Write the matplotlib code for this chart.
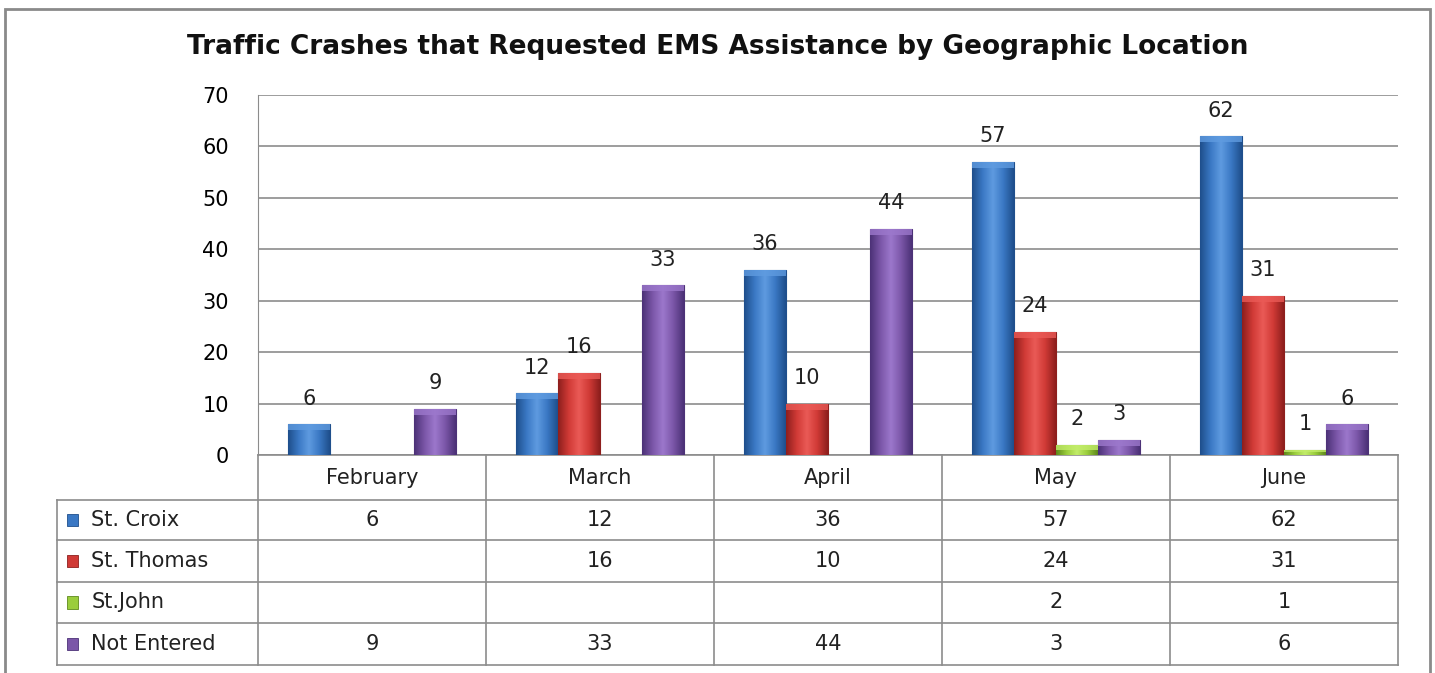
import numpy as np
import matplotlib.pyplot as plt
from matplotlib.patches import Rectangle
from matplotlib.colors import LinearSegmentedColormap
import matplotlib.transforms as mtransforms

plt.rcParams['font.family'] = ['DejaVu Sans']

# data
months = ["February", "March", "April", "May", "June"]
series = ["St. Croix", "St. Thomas", "St.John", "Not Entered"]
st_croix = [6, 12, 36, 57, 62]
st_thomas = [np.nan, 16, 10, 24, 31]
st_john = [np.nan, np.nan, np.nan, 2, 1]
not_entered = [9, 33, 44, 3, 6]
values = [st_croix, st_thomas, st_john, not_entered]

colors = ["#3a78c4", "#d03a36", "#9acd3c", "#7b56a8"]
light = ["#5f9be0", "#ea5a56", "#c2ec6a", "#9c78cc"]
dark = ["#1f4f8c", "#8e1f1d", "#5f8a1c", "#4c3277"]

fig = plt.figure(figsize=(14.35, 6.73), dpi=100)
W, H = 1435, 673
ax = fig.add_axes([258 / W, 1 - 455 / H, (1398 - 258) / W, (455 - 95) / H])

# outer frame
fig.patches.append(Rectangle((5 / W, -0.05), 1425 / W, 1.05 - 9 / H, transform=fig.transFigure,
                             fill=False, edgecolor="#8a8a8a", linewidth=2))

fs = 15
x = np.arange(len(months))
bw = 42 / 228
for i, vals in enumerate(values):
    cmap = LinearSegmentedColormap.from_list("g", [dark[i], colors[i], light[i], colors[i], dark[i]])
    grad = np.linspace(0, 1, 64).reshape(1, -1)
    for j, v in enumerate(vals):
        if np.isnan(v):
            continue
        left = x[j] + (i - 1.5) * bw - bw / 2
        bar = ax.bar(left, v, width=bw, align="edge", color=colors[i],
                     edgecolor=dark[i], linewidth=0.8, zorder=3)[0]
        im = ax.imshow(grad, extent=(left, left + bw, 0, v), cmap=cmap, aspect="auto", zorder=3.5)
        im.set_clip_path(bar)
        # top bevel
        ax.add_patch(Rectangle((left, v - min(1.2, v * 0.5)), bw, min(1.2, v * 0.5),
                               facecolor=light[i], edgecolor="none", alpha=0.8, zorder=4))
        ax.text(left + bw / 2, v + 3.0, f"{int(v)}", ha="center", va="bottom",
                fontsize=fs, color="#222222", zorder=5)

ax.set_xlim(-0.5, 4.5)
ax.set_ylim(0, 70)
ax.set_yticks(range(0, 71, 10))
ax.tick_params(axis="y", length=0, labelsize=fs, pad=21)
ax.set_xticks([])
ax.yaxis.grid(True, color="#8c8c8c", linewidth=1.2, zorder=0)
ax.set_axisbelow(True)
for s in ["top", "right", "bottom"]:
    ax.spines[s].set_visible(False)
ax.spines["left"].set_color("#8c8c8c")

# data table below the axes
trans = mtransforms.blended_transform_factory(ax.transData, ax.transAxes)
ph = 360.0
row_edges = [0, -45 / ph, -85 / ph, -127 / ph, -168 / ph, -210 / ph]
lab_left = (57 - 258) / 228 - 0.5
lc = "#8c8c8c"
kw = dict(transform=trans, color=lc, linewidth=1.2, clip_on=False)
ax.plot([-0.5, 4.5], [row_edges[0]] * 2, **kw)
for k in range(1, len(row_edges)):
    ax.plot([lab_left, 4.5], [row_edges[k]] * 2, **kw)
ax.plot([-0.5, -0.5], [row_edges[0], row_edges[-1]], **kw)
ax.plot([lab_left, lab_left], [row_edges[1], row_edges[-1]], **kw)
for c in range(len(months)):
    ax.plot([c + 0.5, c + 0.5], [row_edges[0], row_edges[-1]], **kw)

for c, m in enumerate(months):
    ax.text(c, (row_edges[0] + row_edges[1]) / 2, m, transform=trans, ha="center", va="center",
            fontsize=fs, color="#222222")
for r, (name, vals) in enumerate(zip(series, values)):
    yc = (row_edges[r + 1] + row_edges[r + 2]) / 2
    ax.add_patch(Rectangle((lab_left + 0.045, yc - 0.017), 0.046, 0.034, transform=trans,
                           facecolor=colors[r], edgecolor=dark[r], linewidth=0.6, clip_on=False))
    ax.text(lab_left + 0.15, yc, name, transform=trans, ha="left", va="center",
            fontsize=fs, color="#222222")
    for c, v in enumerate(vals):
        if not np.isnan(v):
            ax.text(c, yc, f"{int(v)}", transform=trans, ha="center", va="center",
                    fontsize=fs, color="#222222")

fig.text(718 / W, 1 - 47 / H, "Traffic Crashes that Requested EMS Assistance by Geographic Location",
         ha="center", va="center", fontsize=19, fontweight="bold", color="#111111")

fig.savefig("out.png", dpi=100)
